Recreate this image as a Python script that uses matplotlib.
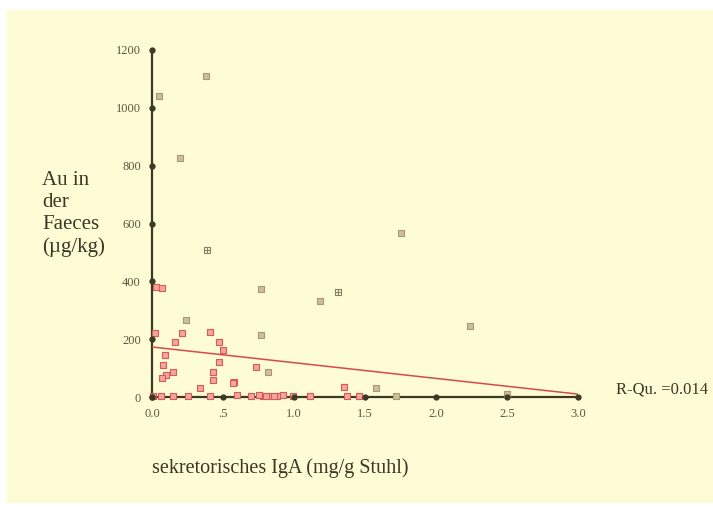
import matplotlib
matplotlib.use('Agg')
import matplotlib.pyplot as plt
from matplotlib.patches import Rectangle

plt.rcParams['font.family'] = ['Liberation Serif', 'DejaVu Serif']

# tick values / labels
x_ticks = [0.0, 0.5, 1.0, 1.5, 2.0, 2.5, 3.0]
x_tick_labels = ['0.0', '.5', '1.0', '1.5', '2.0', '2.5', '3.0']
y_ticks = [0, 200, 400, 600, 800, 1000, 1200]

# grey-brown measurements
brown_x = [0.38, 0.05, 0.20, 0.77, 1.18, 1.75, 2.24, 0.77, 0.24, 0.82, 1.58, 1.72, 2.50]
brown_y = [1110, 1040, 825, 373, 332, 567, 245, 216, 266, 88, 30, 2, 12]

# open squares with cross
open_x = [0.39, 1.31]
open_y = [508, 364]

# red measurements
red_x = [0.03, 0.07, 0.02, 0.21, 0.16, 0.41, 0.47, 0.50, 0.09, 0.08, 0.10, 0.15,
         0.07, 0.43, 0.43, 0.47, 0.58, 0.34, 0.73, 1.35, 0.06, 0.15, 0.25, 0.41,
         0.60, 0.78, 0.83, 0.88, 0.99, 1.11, 1.37, 1.46, 0.57, 0.70, 0.75, 0.80,
         0.86, 0.01, 0.92]
red_y = [380, 378, 221, 221, 191, 226, 191, 162, 145, 111, 76, 88,
         65, 88, 59, 122, 53, 30, 105, 36, 2, 3, 2, 4,
         6, 3, 5, 2, 3, 4, 5, 2, 50, 2, 8, 4,
         2, 3, 6]

# regression line
fit_x = [0.0, 3.0]
fit_y = [173, 10]
r_text = 'R-Qu. =0.014'

bg = '#FEFCD4'
axis_col = '#3C3A24'
label_col = '#5A5840'

fig = plt.figure(figsize=(7.13, 5.07), dpi=100)
fig.patch.set_facecolor('white')
fig.patches.append(Rectangle((7 / 713, 4 / 507), 1.0, 493 / 507,
                             transform=fig.transFigure, facecolor=bg,
                             edgecolor='none', zorder=-10))

ax = fig.add_axes([152 / 713, 110 / 507, 426 / 713, 347 / 507])
ax.set_zorder(5)
ax.set_facecolor('none')
ax.set_xlim(0, 3.0)
ax.set_ylim(0, 1200)

for side in ['top', 'right']:
    ax.spines[side].set_visible(False)
for side in ['left', 'bottom']:
    ax.spines[side].set_color(axis_col)
    ax.spines[side].set_linewidth(1.6)

ax.set_xticks(x_ticks)
ax.set_xticklabels(x_tick_labels)
ax.set_yticks(y_ticks)
ax.tick_params(length=0, labelsize=9, labelcolor=label_col, pad=8)

# tick dots on the axes
ax.plot(x_ticks, [0] * len(x_ticks), 'o', color=axis_col, ms=3.5, clip_on=False, zorder=5)
ax.plot([0] * len(y_ticks), y_ticks, 'o', color=axis_col, ms=3.5, clip_on=False, zorder=5)

ax.plot(fit_x, fit_y, color='#D84A4A', lw=1.1, zorder=3)

ax.scatter(red_x, red_y, marker='s', s=20, facecolor='#F2A6A0', edgecolor='#D85A55',
           linewidth=0.8, clip_on=False, zorder=4)
ax.scatter(brown_x, brown_y, marker='s', s=20, facecolor='#CDBE98', edgecolor='#A89A78',
           linewidth=0.8, clip_on=False, zorder=4)
ax.scatter(open_x, open_y, marker='s', s=20, facecolor='none', edgecolor='#8A8066',
           linewidth=0.8, zorder=4)
ax.scatter(open_x, open_y, marker='+', s=20, color='#8A8066', linewidth=0.8, zorder=4)

fig.text(42 / 713, 1 - 214 / 507, 'Au in\nder\nFaeces\n(µg/kg)', fontsize=15,
         color='#3A3826', ha='left', va='center', linespacing=1.2)
ax.text(0.0, -0.205, 'sekretorisches IgA (mg/g Stuhl)', transform=ax.transAxes,
        fontsize=14.5, color='#3A3826', ha='left', va='center')
fig.text(616 / 713, 1 - 389 / 507, r_text, fontsize=12, color='#3A3826',
         ha='left', va='center')

fig.savefig('out.png', dpi=100, facecolor='white')
